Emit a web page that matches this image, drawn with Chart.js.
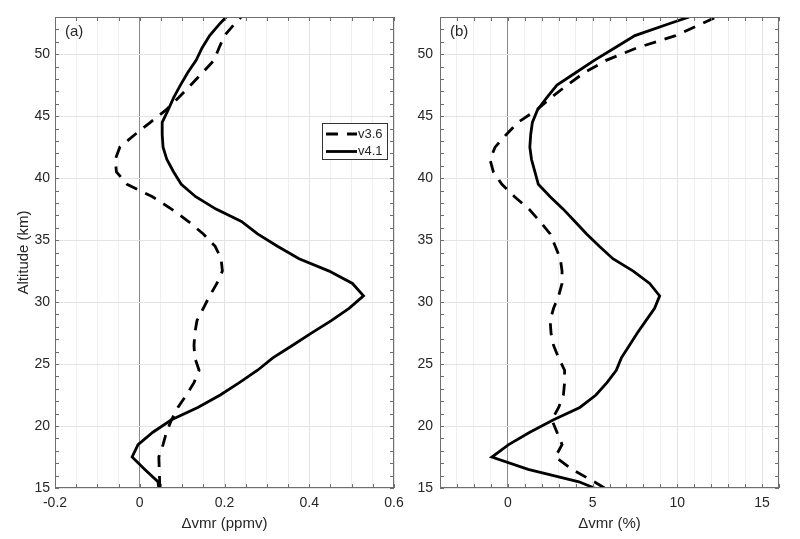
<!DOCTYPE html>
<html>
<head>
<meta charset="utf-8">
<script src="https://cdn.jsdelivr.net/npm/chart.js@4/dist/chart.umd.min.js"></script>
<style>
  html, body { margin: 0; padding: 0; background: #fff; }
  #wrap { position: relative; width: 800px; height: 539px; }
  #wrap canvas { position: absolute; left: 0; top: 0; }
</style>
</head>
<body>
<div id="wrap">
  <canvas id="panelA" width="800" height="539"></canvas>
  <canvas id="panelB" width="800" height="539"></canvas>
</div>
<script>
// altitude levels (km), shared by both panels
const altitude = [15, 15.5, 16.5, 17.5, 18.5, 19.5, 20.5, 21.5, 22.5, 23.5,
  24.5, 25.5, 26.5, 27.5, 28.5, 29.5, 30.5, 31.5, 32.5, 33.5,
  34.5, 35.5, 36.5, 37.5, 38.5, 39.5, 40.5, 41.5, 42.5, 43.5,
  44.5, 45.5, 46.5, 47.5, 48.5, 49.5, 50.5, 51.5, 52.5, 53];

// (a) delta vmr in ppmv
const ppmvV36 = [0.047, 0.047, 0.046, 0.045, 0.055, 0.063, 0.075, 0.09, 0.11, 0.128,
  0.14, 0.13, 0.128, 0.13, 0.135, 0.15, 0.165, 0.182, 0.195, 0.192,
  0.178, 0.15, 0.115, 0.075, 0.03, -0.03, -0.055, -0.058, -0.047, -0.012,
  0.025, 0.062, 0.092, 0.12, 0.148, 0.175, 0.187, 0.2, 0.225, 0.239];
const ppmvV41 = [0.045, 0.043, 0.012, -0.018, -0.004, 0.031, 0.075, 0.137, 0.19, 0.235,
  0.278, 0.314, 0.36, 0.405, 0.452, 0.494, 0.528, 0.502, 0.447, 0.376,
  0.325, 0.278, 0.24, 0.18, 0.132, 0.098, 0.08, 0.064, 0.055, 0.053,
  0.053, 0.067, 0.08, 0.096, 0.113, 0.133, 0.147, 0.165, 0.19, 0.204];

// (b) delta vmr in percent
const pctV36 = [5.7, 5.1, 3.8, 2.8, 3.2, 2.9, 2.6, 3.0, 3.28, 3.35,
  3.35, 3.0, 2.7, 2.55, 2.5, 2.7, 3.0, 3.2, 3.2, 3.1,
  2.8, 2.5, 1.9, 1.25, 0.4, -0.35, -0.85, -1.05, -0.75, -0.1,
  0.6, 1.7, 2.55, 3.5, 4.5, 5.8, 7.6, 9.9, 11.5, 12.3];
const pctV41 = [5.1, 4.2, 1.2, -0.94, 0.05, 1.3, 2.7, 4.25, 5.2, 5.85,
  6.4, 6.7, 7.17, 7.64, 8.15, 8.66, 8.96, 8.37, 7.4, 6.2,
  5.4, 4.65, 3.96, 3.27, 2.5, 1.8, 1.6, 1.4, 1.3, 1.35,
  1.45, 1.75, 2.3, 2.9, 4.0, 5.1, 6.3, 7.5, 9.6, 10.7];

const seriesNames = ["v3.6", "v4.1"];
const xTicksA = { min: -0.2, max: 0.6, minor: 0.05, major: 0.2 };
const xTicksB = { min: -4, max: 16, minor: 1, major: 5 };
const yTicks = { min: 15, max: 53, minor: 1, major: 5 };

const FONT = "'Liberation Sans', Arial, Helvetica, sans-serif";
const TEXT = "#262626";
const AXIS = "#6e6e6e";

Chart.defaults.font.family = FONT;
Chart.defaults.color = TEXT;

const isMultiple = (v, step) => Math.abs(v / step - Math.round(v / step)) < 1e-6;

function profile(values) {
  return values.map((v, i) => ({ x: v, y: altitude[i] }));
}

function datasets(v36, v41) {
  return [
    {
      label: seriesNames[0],
      data: profile(v36),
      borderColor: "#000",
      borderWidth: 2.8,
      borderDash: [12, 9],
      showLine: true,
      pointRadius: 0,
      tension: 0,
    },
    {
      label: seriesNames[1],
      data: profile(v41),
      borderColor: "#000",
      borderWidth: 2.8,
      showLine: true,
      pointRadius: 0,
      tension: 0,
    },
  ];
}

// box round the plot + inward tick marks on all four sides, MATLAB style
const frameTicks = {
  id: "frameTicks",
  afterDatasetsDraw(chart) {
    const { ctx, chartArea: a, scales } = chart;
    const sx = scales.x, sy = scales.y;
    ctx.save();
    ctx.strokeStyle = AXIS;
    ctx.lineWidth = 1;
    ctx.beginPath();
    sx.ticks.forEach((t) => {
      const px = Math.round(sx.getPixelForValue(t.value)) + 0.5;
      ctx.moveTo(px, a.bottom); ctx.lineTo(px, a.bottom - 4);
      ctx.moveTo(px, a.top); ctx.lineTo(px, a.top + 4);
    });
    sy.ticks.forEach((t) => {
      const py = Math.round(sy.getPixelForValue(t.value)) + 0.5;
      ctx.moveTo(a.left, py); ctx.lineTo(a.left + 4, py);
      ctx.moveTo(a.right, py); ctx.lineTo(a.right - 4, py);
    });
    ctx.stroke();
    ctx.strokeRect(Math.round(a.left) + 0.5, Math.round(a.top) + 0.5,
      Math.round(a.width) - 1, Math.round(a.height) - 1);
    // panel letter
    const tag = chart.options.plugins.frameTicks.tag;
    ctx.fillStyle = TEXT;
    ctx.font = "15px " + FONT;
    ctx.textBaseline = "middle";
    ctx.textAlign = "left";
    ctx.fillText(tag, a.left + 10, a.top + 15);
    ctx.restore();
  },
};

// small boxed legend inside panel (a)
const boxLegend = {
  id: "boxLegend",
  afterDraw(chart) {
    const { ctx, chartArea: a } = chart;
    const bx = a.right - 71.5, by = a.top + 106.5, bw = 65, bh = 36;
    ctx.save();
    ctx.fillStyle = "#fff";
    ctx.fillRect(bx, by, bw, bh);
    ctx.strokeStyle = "#333";
    ctx.lineWidth = 1;
    ctx.strokeRect(bx, by, bw, bh);
    ctx.font = "13px " + FONT;
    ctx.textBaseline = "middle";
    ctx.textAlign = "left";
    chart.data.datasets.forEach((ds, i) => {
      const yy = by + 10.5 + i * 17.5;
      ctx.strokeStyle = ds.borderColor;
      ctx.lineWidth = ds.borderWidth;
      ctx.setLineDash(ds.borderDash || []);
      ctx.beginPath();
      ctx.moveTo(bx + 3.5, yy);
      ctx.lineTo(bx + 34.5, yy);
      ctx.stroke();
      ctx.setLineDash([]);
      ctx.fillStyle = TEXT;
      ctx.fillText(ds.label, bx + 35.5, yy);
    });
    ctx.restore();
  },
};

function xScale(range, title, fmt) {
  return {
    type: "linear",
    min: range.min,
    max: range.max,
    afterFit: (s) => { s.height = 51; },
    afterBuildTicks: (s) => {
      // ticks every minor step, built from the range values
      const out = [];
      const n = Math.round((range.max - range.min) / range.minor);
      for (let i = 0; i <= n; i++) out.push({ value: range.min + i * range.minor });
      s.ticks = out;
    },
    ticks: {
      autoSkip: false,
      maxRotation: 0,
      padding: 7,
      font: { size: 14 },
      color: TEXT,
      callback: (v) => (isMultiple(v, range.major) ? fmt(v) : ""),
    },
    grid: {
      drawTicks: false,
      lineWidth: 1,
      color: (c) => {
        const v = c.tick ? c.tick.value : NaN;
        if (Math.abs(v) < 1e-9) return "#8a8a8a";
        return isMultiple(v, range.major) ? "#e3e3e3" : "#efefef";
      },
    },
    border: { display: false },
    title: {
      display: true,
      text: title,
      font: { size: 15 },
      color: TEXT,
      padding: { top: 0, bottom: 6 },
    },
  };
}

function yScale(width, pad, showTitle) {
  return {
    type: "linear",
    min: yTicks.min,
    max: yTicks.max,
    afterFit: (s) => { s.width = width; },
    afterBuildTicks: (s) => {
      const out = [];
      const n = Math.round((yTicks.max - yTicks.min) / yTicks.minor);
      for (let i = 0; i <= n; i++) out.push({ value: yTicks.min + i * yTicks.minor });
      s.ticks = out;
    },
    ticks: {
      autoSkip: false,
      padding: pad,
      font: { size: 14 },
      color: TEXT,
      callback: (v) => (isMultiple(v, yTicks.major) ? String(v) : ""),
    },
    grid: {
      drawTicks: false,
      lineWidth: 1,
      color: (c) => (c.tick && isMultiple(c.tick.value, yTicks.major) ? "#e3e3e3" : "rgba(0,0,0,0)"),
    },
    border: { display: false },
    title: {
      display: showTitle,
      text: "Altitude (km)",
      font: { size: 15 },
      color: TEXT,
      padding: { top: 15, bottom: 0 },
    },
  };
}

function buildPanel(id, v36, v41, opts) {
  const extra = [frameTicks];
  if (opts.legend) extra.push(boxLegend);
  return new Chart(document.getElementById(id), {
    type: "scatter",
    data: { datasets: datasets(v36, v41) },
    plugins: extra,
    options: {
      responsive: false,
      animation: false,
      events: [],
      layout: { padding: opts.padding },
      plugins: {
        legend: { display: false },
        tooltip: { enabled: false },
        frameTicks: { tag: opts.tag },
      },
      scales: {
        x: xScale(opts.range, opts.xTitle, opts.fmt),
        y: yScale(opts.yWidth, opts.yPad, opts.yTitle),
      },
    },
  });
}

buildPanel("panelA", ppmvV36, ppmvV41, {
  tag: "(a)",
  legend: true,
  padding: { left: 0, top: 17, right: 406, bottom: 0 },
  range: xTicksA,
  xTitle: "\u0394vmr (ppmv)",
  fmt: (v) => (Math.abs(v) < 1e-9 ? "0" : v.toFixed(1)),
  yWidth: 55,
  yPad: 5,
  yTitle: true,
});

buildPanel("panelB", pctV36, pctV41, {
  tag: "(b)",
  legend: false,
  padding: { left: 400, top: 17, right: 21, bottom: 0 },
  range: xTicksB,
  xTitle: "\u0394vmr (%)",
  fmt: (v) => String(Math.round(v)),
  yWidth: 40,
  yPad: 7,
  yTitle: false,
});
</script>
</body>
</html>
